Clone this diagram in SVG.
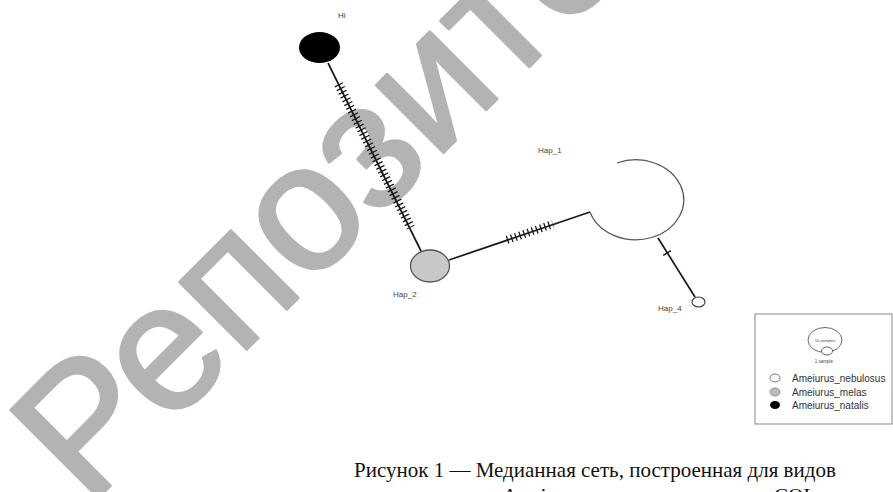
<svg xmlns="http://www.w3.org/2000/svg" width="893" height="492" viewBox="0 0 893 492">
<style>
.lbl{font-family:"Liberation Sans",Arial,sans-serif;font-size:8px;fill:#444}
.edge{stroke:#1a1a1a;stroke-width:1.7;fill:none}
.hatch{stroke:#1a1a1a;fill:none}
.leg{font-family:"Liberation Sans",Arial,sans-serif;font-size:10px;fill:#333}
.cap{font-family:"Liberation Serif","Times New Roman",serif;font-size:21px;fill:#111}
.wm{font-family:"Liberation Sans",Arial,sans-serif;font-size:180px;fill:#b3b3b3;stroke:#b3b3b3;stroke-width:3;stroke-linejoin:round}
</style>
<rect width="893" height="492" fill="#ffffff"/>
<g id="watermark">
<text class="wm" transform="translate(88,508) rotate(-45)">Репозиторий</text>
</g>
<g id="connectors">
<line class="edge" x1="328" y1="63" x2="421" y2="251"/>
<line class="hatch" x1="338.6" y1="84.2" x2="410.7" y2="227.5" stroke-width="9" stroke-dasharray="1.3 2.9"/>
<line class="edge" x1="449" y1="260" x2="590" y2="212"/>
<line class="hatch" x1="507" y1="240" x2="553" y2="224" stroke-width="8" stroke-dasharray="1.3 3.1"/>
<line class="edge" x1="658" y1="238" x2="695" y2="297"/>
<line class="hatch" x1="663.2" y1="255.4" x2="670.8" y2="250.6" stroke-width="1.4"/>
</g>
<g id="Hi">
<ellipse cx="319.5" cy="47.5" rx="20.5" ry="15.5" fill="#000"/>
<text class="lbl" x="338" y="18">Hi</text>
</g>
<g id="Hap_1">
<path d="M617 163 A48 40 0 1 1 590 212" fill="none" stroke="#555" stroke-width="1.2"/>
<text class="lbl" x="538" y="153">Hap_1</text>
</g>
<g id="Hap_2">
<ellipse cx="430" cy="266" rx="19.5" ry="16" fill="#c8c8c8" stroke="#555" stroke-width="1.3"/>
<text class="lbl" x="393" y="297">Hap_2</text>
</g>
<g id="Hap_4">
<ellipse cx="698.5" cy="302" rx="6.5" ry="5" fill="#fff" stroke="#333" stroke-width="1.1"/>
<text class="lbl" x="658" y="311">Hap_4</text>
</g>
<g id="legend">
<rect x="755" y="314" width="137" height="110" fill="#fff" stroke="#888" stroke-width="1"/>
<ellipse cx="825" cy="340" rx="17" ry="12.5" fill="#fff" stroke="#555" stroke-width="0.9"/>
<ellipse cx="827" cy="351" rx="5.5" ry="4" fill="#fff" stroke="#555" stroke-width="0.9"/>
<text x="825" y="341.5" text-anchor="middle" font-family="Liberation Sans, Arial, sans-serif" font-size="4" fill="#444">10 samples</text>
<text x="824" y="363" text-anchor="middle" font-family="Liberation Sans, Arial, sans-serif" font-size="4.5" fill="#444">1 sample</text>
<ellipse cx="775" cy="378" rx="5" ry="4" fill="#fff" stroke="#666" stroke-width="0.9"/>
<ellipse cx="775" cy="392" rx="5" ry="4" fill="#bdbdbd" stroke="#888" stroke-width="0.9"/>
<ellipse cx="775" cy="405" rx="5" ry="4" fill="#000"/>
<text class="leg" x="792" y="381.5">Ameiurus_nebulosus</text>
<text class="leg" x="792" y="395.5">Ameiurus_melas</text>
<text class="leg" x="792" y="408.5">Ameiurus_natalis</text>
</g>
<g id="caption">
<text class="cap" x="354" y="477">Рисунок 1 — Медианная сеть, построенная для видов</text>
<text class="cap" x="502" y="503" font-style="italic">Ameiurus</text>
<text class="cap" x="774" y="503">COI</text>
</g>
</svg>
